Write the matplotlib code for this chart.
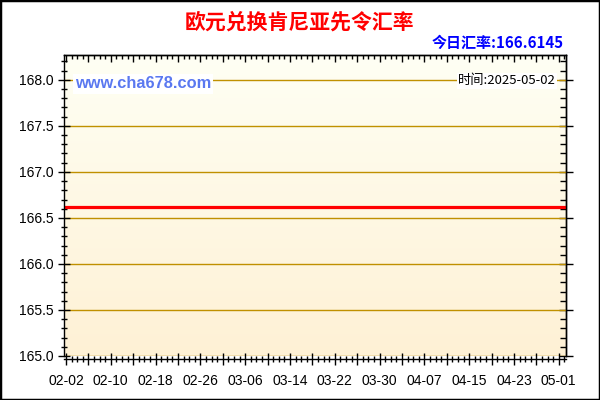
import matplotlib
matplotlib.use('Agg')
import matplotlib.pyplot as plt
import numpy as np
import pandas as pd
from matplotlib.ticker import MultipleLocator, FuncFormatter, NullFormatter
from matplotlib.patches import Rectangle

plt.rcParams['font.family'] = ['Liberation Sans', 'Noto Sans CJK SC', 'DejaVu Sans']

# data
title = '欧元兑换肯尼亚先令汇率'
today_label = '今日汇率:166.6145'
site_label = 'www.cha678.com'
time_label = '时间:2025-05-02'
dates = pd.date_range('2025-02-02', '2025-05-02', freq='D')
rates = [
    166.6145, 166.6145, 166.6145, 166.6145, 166.6145, 166.6145, 166.6145, 166.6145, 166.6145, 166.6145,
    166.6145, 166.6145, 166.6145, 166.6145, 166.6145, 166.6145, 166.6145, 166.6145, 166.6145, 166.6145,
    166.6145, 166.6145, 166.6145, 166.6145, 166.6145, 166.6145, 166.6145, 166.6145, 166.6145, 166.6145,
    166.6145, 166.6145, 166.6145, 166.6145, 166.6145, 166.6145, 166.6145, 166.6145, 166.6145, 166.6145,
    166.6145, 166.6145, 166.6145, 166.6145, 166.6145, 166.6145, 166.6145, 166.6145, 166.6145, 166.6145,
    166.6145, 166.6145, 166.6145, 166.6145, 166.6145, 166.6145, 166.6145, 166.6145, 166.6145, 166.6145,
    166.6145, 166.6145, 166.6145, 166.6145, 166.6145, 166.6145, 166.6145, 166.6145, 166.6145, 166.6145,
    166.6145, 166.6145, 166.6145, 166.6145, 166.6145, 166.6145, 166.6145, 166.6145, 166.6145, 166.6145,
    166.6145, 166.6145, 166.6145, 166.6145, 166.6145, 166.6145, 166.6145, 166.6145, 166.6145, 166.6145,
]
y_ticks = [165.0, 165.5, 166.0, 166.5, 167.0, 167.5, 168.0]

days = np.arange(len(dates))
cjk = ['Noto Sans CJK SC', 'DejaVu Sans']

fig = plt.figure(figsize=(6, 4), dpi=100)
fig.patches.append(Rectangle((0, 0), 1, 1, transform=fig.transFigure,
                             fill=False, edgecolor='black', linewidth=2.5))
ax = fig.add_axes([64/600, 44/400, 502/600, 301/400])

# gradient background
grad = np.linspace(0, 1, 256).reshape(-1, 1)
top = np.array(matplotlib.colors.to_rgb('#FFFFF4'))
bot = np.array(matplotlib.colors.to_rgb('#FEF1D5'))
img = top + (bot - top) * grad[:, :, None]
ax.imshow(img, extent=[0, 1, 0, 1], transform=ax.transAxes, aspect='auto', zorder=0)

for v in y_ticks:
    ax.axhline(v, color='#C09000', linewidth=1.0, zorder=1)

ax.plot(days, rates, color='#FF0000', linewidth=2.3, zorder=3)

ax.set_xlim(-0.35, 89.3)
ax.set_ylim(165.0, 168.27)

ax.xaxis.set_major_locator(MultipleLocator(4))
ax.xaxis.set_minor_locator(MultipleLocator(1))
def fmt_date(x, pos):
    i = int(round(x))
    if i % 8 != 0 or i < 0 or i >= len(dates):
        return ''
    return dates[i].strftime('%m-%d')
ax.xaxis.set_major_formatter(FuncFormatter(fmt_date))
ax.set_yticks(y_ticks)
ax.yaxis.set_major_formatter(FuncFormatter(lambda v, p: '%.1f' % v))
ax.yaxis.set_minor_locator(MultipleLocator(0.1))

ax.tick_params(axis='both', which='major', direction='inout', length=9, width=1,
               labelsize=10, colors='black')
ax.tick_params(axis='both', which='minor', direction='inout', length=5, width=1)
ax.tick_params(axis='x', which='major', pad=6)
ax.tick_params(axis='y', which='major', pad=3)

# top and right ticks pointing inward
topx = ax.secondary_xaxis('top')
topx.xaxis.set_major_locator(MultipleLocator(4))
topx.xaxis.set_minor_locator(MultipleLocator(1))
topx.xaxis.set_major_formatter(NullFormatter())
topx.tick_params(which='major', direction='in', length=5, width=1)
topx.tick_params(which='minor', direction='in', length=3, width=1)
righty = ax.secondary_yaxis('right')
righty.set_yticks(y_ticks)
righty.yaxis.set_minor_locator(MultipleLocator(0.1))
righty.yaxis.set_major_formatter(NullFormatter())
righty.tick_params(which='major', direction='inout', length=10, width=1)
righty.tick_params(which='minor', direction='in', length=4, width=1)
for sec in (topx, righty):
    for s in sec.spines.values():
        s.set_linewidth(1.0)

ax.spines['bottom'].set_position(('outward', 2.5))
for s in ax.spines.values():
    s.set_linewidth(1.0)
    s.set_zorder(5)

fig.text(0.5, 1 - 22/400, title, ha='center', va='center', color='#FF0000',
         fontsize=15, fontweight='bold', family=cjk)
fig.text(564/600, 1 - 43/400, today_label, ha='right', va='center', color='#0000FF',
         fontsize=10.8, fontweight='bold', family=cjk)
ax.text(0.022, 0.904, site_label, transform=ax.transAxes, ha='left', va='center',
        color='#5A78F0', fontsize=11.8, fontweight='bold', zorder=4,
        bbox=dict(facecolor='white', edgecolor='none', pad=1.5))
ax.text(0.98, 0.914, time_label, transform=ax.transAxes, ha='right', va='center',
        color='black', fontsize=9.5, zorder=4, family=cjk,
        bbox=dict(facecolor='white', edgecolor='none', pad=1))

fig.savefig('out.png', dpi=100)
